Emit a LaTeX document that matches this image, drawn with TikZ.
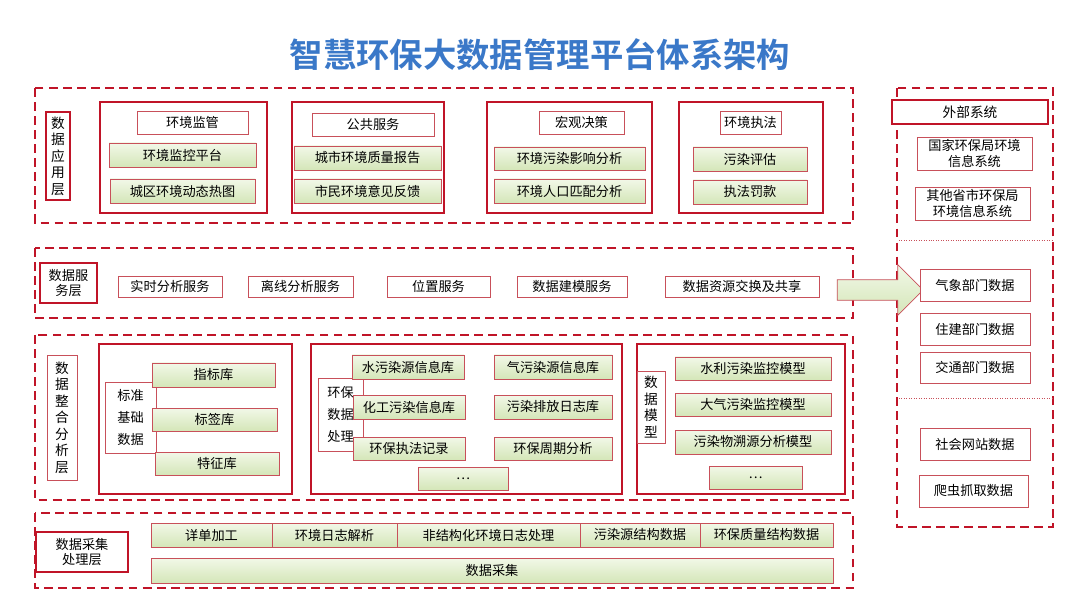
\documentclass[tikz,border=0pt]{standalone}
\usepackage{fontspec}
\setmainfont{Noto Sans CJK SC}[BoldFont={Noto Sans CJK SC Bold}]
\usetikzlibrary{shapes.arrows,shadows}
\definecolor{dred}{RGB}{192,20,40}
\definecolor{lred}{RGB}{200,80,90}
\definecolor{tblue}{RGB}{58,120,200}
\definecolor{gtop}{RGB}{242,248,232}
\definecolor{gbot}{RGB}{212,230,184}
\tikzset{
  layer/.style={draw=dred, thick, dashed, dash pattern=on 5pt off 3pt},
  group/.style={draw=dred, line width=1.3pt},
  lab/.style={draw=dred, line width=1.3pt, fill=white, align=center, inner sep=0pt},
  wbox/.style={draw=lred, fill=white, align=center, inner sep=0pt},
  gbox/.style={draw=lred, top color=gtop, bottom color=gbot, align=center, inner sep=0pt,
    drop shadow={shadow xshift=0.6pt, shadow yshift=-0.6pt, opacity=0.3}},
}
% style, name, x1, y1, x2, y2, text
\newcommand{\bx}[7]{\node[#1, minimum width={(#5-#3)*0.02cm}, minimum height={(#6-#4)*0.02cm}]
  (#2) at ({(#3+#5)/2},{(#4+#6)/2}) {#7};}
\begin{document}
\begin{tikzpicture}[x=0.02cm, y=-0.02cm, font=\fontsize{7.5}{9}\selectfont]
    \useasboundingbox (0,0) rectangle (1080,608);

    % Title
    \node[text=tblue, font=\fontsize{19}{22}\selectfont\bfseries] (title) at (540,55) {智慧环保大数据管理平台体系架构};

    % Layers
    \draw[layer] (35,88) rectangle (853,223);
    \draw[layer] (35,248) rectangle (853,318);
    \draw[layer] (35,335) rectangle (853,500);
    \draw[layer] (35,513) rectangle (853,588);
    \draw[layer] (897,88) rectangle (1053,527);

    % Application layer
    \bx{lab, font=\fontsize{7.8}{9.4}\selectfont}{app}{46}{112}{70}{200}{数\\据\\应\\用\\层}
    \draw[group] (100,102) rectangle (267,213);
    \draw[group] (292,102) rectangle (444,213);
    \draw[group] (487,102) rectangle (652,213);
    \draw[group] (679,102) rectangle (823,213);
    \bx{wbox}{jg}{137}{111}{248}{134}{环境监管}
    \bx{wbox}{gg}{312}{113}{434}{136}{公共服务}
    \bx{wbox}{hg}{539}{111}{624}{134}{宏观决策}
    \bx{wbox}{zf}{720}{111}{781}{134}{环境执法}
    \bx{gbox}{a1}{109}{143}{256}{167}{环境监控平台}
    \bx{gbox}{a2}{110}{179}{255}{203}{城区环境动态热图}
    \bx{gbox}{a3}{294}{146}{441}{170}{城市环境质量报告}
    \bx{gbox}{a4}{294}{179}{441}{203}{市民环境意见反馈}
    \bx{gbox}{a5}{494}{147}{645}{170}{环境污染影响分析}
    \bx{gbox}{a6}{494}{179}{645}{203}{环境人口匹配分析}
    \bx{gbox}{a7}{693}{147}{807}{171}{污染评估}
    \bx{gbox}{a8}{693}{180}{807}{204}{执法罚款}

    % Service layer
    \bx{lab}{srv}{40}{263}{97}{303}{数据服\\务层}
    \bx{wbox}{s1}{118}{276}{222}{297}{实时分析服务}
    \bx{wbox}{s2}{248}{276}{353}{297}{离线分析服务}
    \bx{wbox}{s3}{387}{276}{490}{297}{位置服务}
    \bx{wbox}{s4}{517}{276}{627}{297}{数据建模服务}
    \bx{wbox}{s5}{665}{276}{819}{297}{数据资源交换及共享}
    \node[single arrow, draw=lred, top color=gtop, bottom color=gbot, inner xsep=0pt, inner ysep=0.2cm,
      minimum height=1.72cm, single arrow head extend=0.3cm, single arrow tip angle=90] (share) at (875,290) {};

    % Integration layer
    \bx{wbox, font=\fontsize{7.8}{9.4}\selectfont}{intg}{47}{355}{77}{480}{数\\据\\整\\合\\分\\析\\层}
    \draw[group] (99,344) rectangle (292,494);
    \draw[group] (311,344) rectangle (622,494);
    \draw[group] (637,344) rectangle (845,494);
    \bx{wbox, font=\fontsize{7.5}{12.5}\selectfont}{bz}{105}{382}{156}{453}{标准\\基础\\数据}
    \bx{gbox}{b1}{152}{363}{275}{387}{指标库}
    \bx{gbox}{b2}{152}{408}{277}{431}{标签库}
    \bx{gbox}{b3}{155}{452}{279}{475}{特征库}
    \bx{wbox, font=\fontsize{7.5}{12.5}\selectfont}{hb}{318}{378}{363}{451}{环保\\数据\\处理}
    \bx{gbox}{c1}{352}{355}{464}{379}{水污染源信息库}
    \bx{gbox}{c2}{353}{395}{465}{419}{化工污染信息库}
    \bx{gbox}{c3}{353}{437}{465}{460}{环保执法记录}
    \bx{gbox}{c4}{494}{355}{612}{379}{气污染源信息库}
    \bx{gbox}{c5}{494}{395}{612}{419}{污染排放日志库}
    \bx{gbox}{c6}{494}{437}{612}{460}{环保周期分析}
    \bx{gbox}{c7}{418}{467}{508}{490}{…}
    \bx{wbox, font=\fontsize{7.8}{9.4}\selectfont}{mx}{637}{371}{665}{443}{数\\据\\模\\型}
    \bx{gbox}{d1}{675}{357}{831}{380}{水利污染监控模型}
    \bx{gbox}{d2}{675}{393}{831}{416}{大气污染监控模型}
    \bx{gbox}{d3}{675}{430}{831}{454}{污染物溯源分析模型}
    \bx{gbox}{d4}{709}{466}{802}{489}{…}

    % Collection layer
    \bx{lab}{col}{36}{532}{128}{572}{数据采集\\处理层}
    \bx{gbox}{e1}{151}{523}{272}{547}{详单加工}
    \bx{gbox}{e2}{272}{523}{397}{547}{环境日志解析}
    \bx{gbox}{e3}{397}{523}{580}{547}{非结构化环境日志处理}
    \bx{gbox}{e4}{580}{523}{700}{547}{污染源结构数据}
    \bx{gbox}{e5}{700}{523}{833}{547}{环保质量结构数据}
    \bx{gbox}{e6}{151}{558}{833}{583}{数据采集}

    % External systems
    \bx{lab, font=\fontsize{7.8}{9.4}\selectfont}{ext}{892}{100}{1048}{124}{外部系统}
    \bx{wbox}{x1}{917}{137}{1032}{170}{国家环保局环境\\信息系统}
    \bx{wbox}{x2}{915}{187}{1030}{220}{其他省市环保局\\环境信息系统}
    \draw[lred, densely dotted] (899,240) -- (1053,240);
    \bx{wbox}{x3}{920}{269}{1030}{301}{气象部门数据}
    \bx{wbox}{x4}{920}{313}{1030}{345}{住建部门数据}
    \bx{wbox}{x5}{920}{352}{1030}{383}{交通部门数据}
    \draw[lred, densely dotted] (899,398) -- (1053,398);
    \bx{wbox}{x6}{920}{428}{1030}{460}{社会网站数据}
    \bx{wbox}{x7}{919}{475}{1028}{507}{爬虫抓取数据}
\end{tikzpicture}
\end{document}
